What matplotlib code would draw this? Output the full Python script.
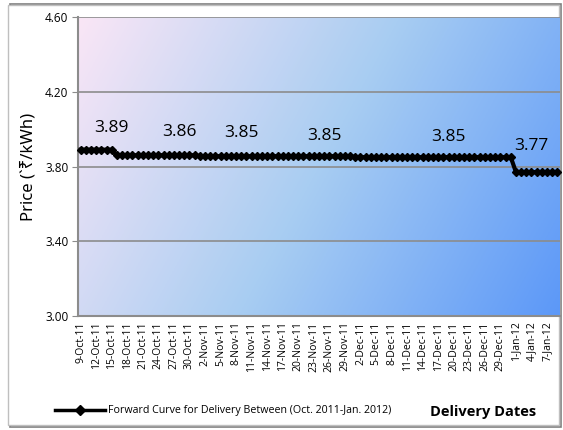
import numpy as np
import pandas as pd
import matplotlib
matplotlib.use("Agg")
import matplotlib.pyplot as plt
from matplotlib.patches import Rectangle
from matplotlib.lines import Line2D

plt.rcParams['font.family'] = ['Open Sans', 'Noto Sans', 'DejaVu Sans']

# 数据：按日交割的远期曲线（分段读取）
start_date = '2011-10-09'
seg_values = [3.89, 3.86, 3.855, 3.85, 3.77]
seg_days = [7, 16, 30, 31, 9]
label_dates = ['2011-10-15', '2011-10-28', '2011-11-09', '2011-11-25', '2011-12-19', '2012-01-04']
label_texts = ['3.89', '3.86', '3.85', '3.85', '3.85', '3.77']
label_offsets = [0.115, 0.125, 0.125, 0.11, 0.11, 0.14]
yticks = [3.00, 3.40, 3.80, 4.20, 4.60]
legend_label = 'Forward Curve for Delivery Between (Oct. 2011-Jan. 2012)'
xtitle = 'Delivery Dates'
ytitle = 'Price (`\u20b9/kWh)'

prices = np.repeat(seg_values, seg_days)
dates = pd.date_range(start_date, periods=len(prices), freq='D')
idx = np.arange(len(prices))

fig = plt.figure(figsize=(5.63, 4.30), dpi=100)
fig.patch.set_facecolor('white')

# 外框
fig.patches.append(Rectangle((10 / 563, 3 / 430), 551 / 563, 423 / 430, transform=fig.transFigure,
                             facecolor='none', edgecolor='#7f7f7f', linewidth=1.2, zorder=-2))
fig.patches.append(Rectangle((8 / 563, 5 / 430), 551 / 563, 420 / 430, transform=fig.transFigure,
                             facecolor='white', edgecolor='#bfbfbf', linewidth=1.0, zorder=-1))

ax = fig.add_axes([78 / 563, (430 - 316) / 430, 482 / 563, 299 / 430])
ax.set_zorder(2)

# 渐变背景
nx, ny = 200, 100
gx, gy = np.meshgrid(np.linspace(0, 1, nx), np.linspace(0, 1, ny))
t = np.clip(0.75 * gx + 0.25 * gy, 0, 1)
c0 = np.array([250, 230, 246]) / 255
c1 = np.array([168, 205, 242]) / 255
c2 = np.array([92, 152, 248]) / 255
img = np.where(t[..., None] < 0.5,
               c0 + (c1 - c0) * (t[..., None] / 0.5),
               c1 + (c2 - c1) * ((t[..., None] - 0.5) / 0.5))
ax.imshow(img, extent=[-0.5, len(prices) - 0.5, 3.0, 4.6], aspect='auto', origin='upper', zorder=0)

ax.set_xlim(-0.5, len(prices) - 0.5)
ax.set_ylim(3.0, 4.6)
ax.set_yticks(yticks)
ax.set_yticklabels([f'{v:.2f}' for v in yticks], fontsize=8.5)
ax.yaxis.grid(True, color='#8c8c8c', linewidth=1.2, zorder=1)
ax.set_axisbelow(False)

tick_idx = idx[::3]
ax.set_xticks(tick_idx)
ax.set_xticklabels([f'{d.day}-{d.strftime("%b-%y")}' for d in dates[tick_idx]],
                   rotation=90, fontsize=7.5)
ax.tick_params(axis='x', length=0, pad=4)
ax.tick_params(axis='y', length=4, color='#8c8c8c', pad=3)

for s in ['top', 'right']:
    ax.spines[s].set_visible(False)
for s in ['left', 'bottom']:
    ax.spines[s].set_color('#8c8c8c')
    ax.spines[s].set_linewidth(1.5)

ax.plot(idx, prices, color='black', linewidth=3, marker='D', markersize=4.5, zorder=3, clip_on=False)

for d, txt, off in zip(label_dates, label_texts, label_offsets):
    i = int((pd.Timestamp(d) - dates[0]).days)
    ax.text(i, prices[i] + off, txt, fontsize=12.5, ha='center', va='center', zorder=4)

ax.set_ylabel(ytitle, fontsize=12, labelpad=6, family=['Noto Sans', 'DejaVu Sans'])

# 图例与横轴标题
fig.lines.append(Line2D([55 / 563, 105 / 563], [20 / 430, 20 / 430], transform=fig.transFigure,
                        color='black', linewidth=2.5))
fig.lines.append(Line2D([80 / 563], [20 / 430], transform=fig.transFigure, color='black',
                        marker='D', markersize=5, linestyle='none'))
fig.text(108 / 563, 20 / 430, legend_label, fontsize=7.7, va='center', ha='left')
fig.text(483 / 563, 18 / 430, xtitle, fontsize=10.5, fontweight='bold', va='center', ha='center')

fig.savefig('out.png', dpi=100)
